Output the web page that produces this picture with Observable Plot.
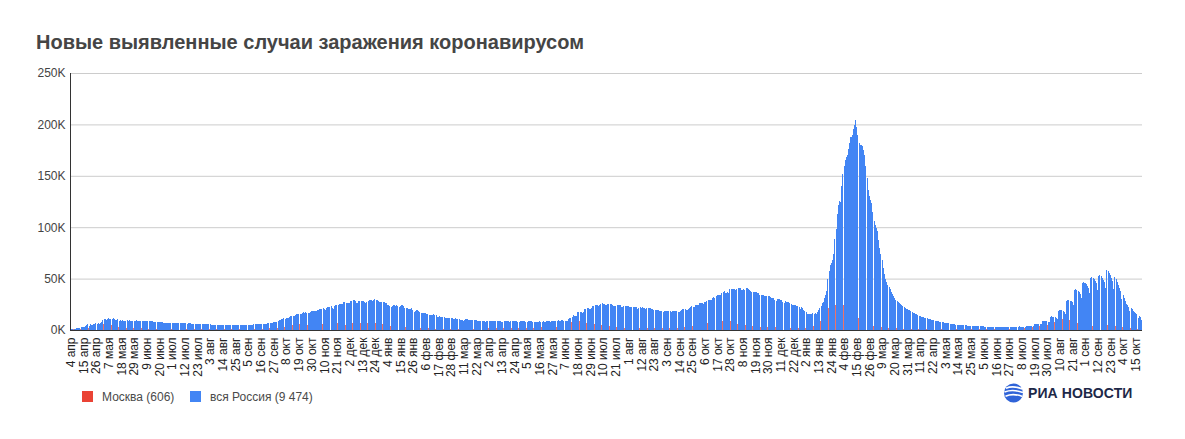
<!DOCTYPE html>
<html>
<head>
<meta charset="utf-8">
<script src="https://cdn.jsdelivr.net/npm/d3@7"></script>
<script src="https://cdn.jsdelivr.net/npm/@observablehq/plot@0.6"></script>
<style>
  html, body { margin: 0; padding: 0; background: #fff; }
  #page { position: relative; width: 1185px; height: 439px; overflow: hidden; font-family: "Liberation Sans", Arial, sans-serif; }
  #title { position: absolute; left: 36px; top: 30px; font-size: 20px; line-height: 24px; font-weight: bold; color: #454545; white-space: nowrap; }
  #chart { position: absolute; left: 0; top: 60px; }
  .lg { position: absolute; top: 390px; font-size: 12px; line-height: 14px; color: #4a4a4a; white-space: nowrap; }
  .sw { position: absolute; top: 391px; width: 11px; height: 11px; }
  #logo { position: absolute; left: 1003px; top: 382px; height: 22px; display: flex; align-items: center; }
  #logo span { font-family: "Liberation Sans", Arial, sans-serif; font-weight: bold; font-size: 14px; color: #1d2848; margin-left: 4px; letter-spacing: 0.1px; }
</style>
</head>
<body>
<div id="page">
  <div id="title">Новые выявленные случаи заражения коронавирусом</div>
  <div id="chart"></div>
  <div class="sw" style="left:82px;background:#ea4335"></div>
  <div class="lg" style="left:102px">Москва (606)</div>
  <div class="sw" style="left:190px;background:#4285f4"></div>
  <div class="lg" style="left:210px">вся Россия (9 474)</div>
  <div id="logo">
    <svg width="21" height="20" viewBox="0 0 21 20">
      <circle cx="10.5" cy="10" r="9.5" fill="#2f63d8"/>
      <path d="M3 5.2 Q10 2.2 19.5 6" stroke="#fff" stroke-width="1.6" fill="none"/>
      <path d="M1.5 9 Q10 5.8 20 9.6" stroke="#fff" stroke-width="1.6" fill="none"/>
      <path d="M2.5 13.2 Q10 10 19.5 13.4" stroke="#fff" stroke-width="1.6" fill="none"/>
    </svg>
    <span>РИА НОВОСТИ</span>
  </div>
</div>
<script>
// ---- Data (thousands of cases per day), one inner array per month ----
// 2020: months April (from the 4th) .. December
const russia2020 = [
  [0.6,0.7,1.0,1.2,1.2,1.5,1.8,1.7,2.2,2.6,2.8,3.4,3.4,4.1,4.8,6.1,4.3,5.6,5.2,4.8,5.8,6.0,6.4,6.2,6.4,5.8,7.1],
  [7.9,9.6,10.6,10.6,10.1,10.6,11.2,10.7,10.8,11.0,11.7,10.9,10.0,10.0,10.6,9.2,9.7,8.9,9.3,8.8,8.8,8.9,9.4,8.6,9.3,8.9,8.3,8.4,8.6,9.0,9.3],
  [9.0,8.9,8.5,8.8,8.7,8.9,9.0,9.0,8.6,8.4,8.8,9.0,8.7,8.8,8.2,8.2,7.8,7.8,8.0,7.9,7.7,7.6,7.4,7.2,7.1,6.8,6.9,6.8,6.7,6.7],
  [6.6,6.8,6.8,6.7,6.6,6.7,6.4,6.6,6.5,6.6,6.6,6.6,6.5,6.2,6.4,6.4,6.4,6.2,6.1,6.1,5.8,5.9,5.8,5.9,5.9,5.8,5.6,5.4,5.5,5.5,5.5],
  [5.5,5.4,5.4,5.2,5.2,5.2,5.2,5.2,5.2,5.1,4.9,5.1,5.1,5.1,5.1,5.1,4.8,4.7,4.8,4.8,4.9,4.9,4.9,4.7,4.7,4.7,4.7,4.7,4.9,4.9,4.7],
  [4.7,4.7,4.7,5.0,5.1,5.2,5.2,5.1,5.1,5.4,5.4,5.4,5.4,5.5,5.7,5.7,5.9,5.9,6.1,6.1,6.2,6.4,6.4,6.6,6.7,7.2,7.5,7.9,8.1,8.2],
  [8.5,9.4,9.4,10.5,10.9,11.6,11.1,11.8,12.1,12.1,12.8,13.6,13.9,13.6,13.8,14.2,15.2,15.7,15.9,15.9,15.8,16.6,17.3,17.0,17.3,16.6,16.1,17.0,17.8,18.3,18.1],
  [18.7,18.7,18.6,19.8,19.4,20.6,20.5,20.4,21.8,20.9,19.9,21.6,21.9,22.7,22.6,23.0,21.0,20.0,23.6,24.3,24.6,24.8,25.2,25.0,25.3,25.5,27.6,27.5,26.7,26.3],
  [26.4,26.0,28.1,28.6,28.8,29.0,28.1,26.1,26.2,27.9,28.6,28.6,28.0,28.1,27.0,26.4,27.0,28.2,29.0,28.9,29.3,28.6,29.3,29.9,29.6,29.0,28.3,27.4,27.0,27.0,27.4]
];
const russia2021 = [
  [27.0,26.5,25.9,24.5,24.2,23.5,22.8,23.5,24.2,24.8,23.3,24.1,23.5,22.4,22.9,24.0,24.1,23.4,21.4,21.7,21.1,20.9,20.7,20.4,21.0,19.2,17.9,18.7,19.3,19.3,18.8],
  [17.6,16.6,16.6,16.7,16.6,16.5,16.0,15.1,14.2,15.0,14.5,14.9,15.2,14.9,14.2,13.0,12.9,13.4,12.9,12.8,12.9,12.4,11.5,11.4,11.4,11.3,11.5,11.5],
  [11.4,10.7,10.5,11.4,11.0,10.9,10.6,10.0,9.4,9.6,9.1,10.0,10.6,10.5,9.9,9.3,9.3,9.4,9.5,9.4,9.3,9.3,8.8,8.5,9.1,9.1,8.9,8.9,8.3,8.2,8.5],
  [8.6,8.8,8.6,8.6,8.5,8.3,8.3,8.3,8.6,8.8,8.7,8.7,8.2,8.1,8.3,8.7,8.8,8.7,8.4,8.1,8.3,8.8,9.1,9.0,8.9,8.3,8.1,8.2,8.8,9.2],
  [8.9,8.5,8.3,7.8,8.0,8.3,8.3,8.3,8.4,8.0,8.0,7.6,8.2,8.2,8.2,8.6,8.1,8.2,8.4,8.2,8.2,8.8,8.9,8.7,8.0,8.4,8.4,8.8,9.0,9.1,8.9],
  [9.3,9.0,9.2,9.3,9.3,9.1,8.6,8.9,9.0,10.4,11.7,12.0,13.0,14.7,13.7,14.1,14.0,17.3,17.9,17.6,17.4,16.7,17.6,20.2,20.2,21.0,21.7,20.5,20.2,21.1],
  [23.5,23.2,24.4,24.4,24.4,23.3,23.9,25.1,25.8,25.1,25.1,24.7,24.1,25.3,25.2,25.3,25.2,24.7,23.2,23.8,23.7,24.5,24.1,24.1,23.9,22.8,22.4,23.1,23.3,23.6,23.3],
  [23.3,22.6,22.1,22.6,22.6,22.8,22.6,22.2,20.8,21.6,21.9,21.8,21.9,21.6,21.0,20.6,21.5,21.0,21.4,21.4,20.5,20.0,19.4,19.6,19.5,19.3,19.2,18.8,18.7,18.3,17.8],
  [18.8,18.7,18.9,18.9,18.8,18.2,17.8,18.1,18.3,18.3,18.6,18.5,17.8,17.8,18.8,19.6,20.2,20.2,20.1,19.6,19.7,20.9,21.4,22.1,22.9,22.5,22.2,23.9,24.5,24.8],
  [24.6,25.8,26.3,25.9,25.1,27.0,27.2,28.0,29.4,29.4,28.7,29.0,31.3,32.2,31.3,33.2,34.3,33.7,33.6,34.1,36.3,37.1,37.7,35.7,35.7,36.6,36.4,40.1,39.8,40.3,40.0],
  [39.4,39.2,40.2,40.7,41.3,41.3,39.2,38.9,39.4,39.2,40.5,40.8,39.7,38.8,37.9,36.6,37.4,37.4,37.1,37.1,36.3,35.6,33.9,33.6,34.2,33.6,33.0,32.6,32.6,32.9],
  [32.9,32.1,31.6,31.1,30.8,29.1,28.3,30.5,30.2,29.9,29.3,29.0,27.4,26.7,28.2,27.7,27.4,26.9,26.2,25.7,24.8,24.4,24.7,23.9,23.4,22.9,21.9,20.8,22.2,21.2,19.8]
];
// 2022: months January .. October (to the 20th)
const russia2022 = [
  [18.8,17.8,16.0,15.3,15.6,15.6,15.4,16.3,15.9,16.2,15.8,17.5,19.2,21.7,23.8,25.8,26.8,31.3,33.9,38.0,49.5,57.2,63.2,65.1,67.8,74.1,88.8,98.0,113.1,121.2,125.8],
  [125,140,152,160,165,168,170,176,182,188,190,196,199,204,197,190,182,180,180,179,175,170,160,148,136,130,126,124],
  [115,106,102,99,96,88,80,74,68,60,54,50,47,44,42,40,37,35,33,31,29,28,27,26,25,24,23,22,21,20.5,20],
  [19.5,19,18,17.5,17,16.5,16,15.5,15,14,13.5,13,12.8,12.5,12,11.8,11.5,11,10.8,10.5,10,9.8,9.5,9.2,9,8.8,8.5,8.2,8,7.8],
  [7.5,7.2,7,6.8,6.6,6.4,6.2,6,5.8,5.6,5.4,5.3,5.2,5.1,5,4.9,4.8,4.7,4.6,4.5,4.4,4.3,4.2,4.1,4,3.9,3.9,3.8,3.8,3.7,3.7],
  [3.6,3.6,3.5,3.5,3.5,3.4,3.4,3.4,3.3,3.3,3.3,3.2,3.2,3.2,3.2,3.1,3.1,3.1,3.1,3.0,3.0,3.0,3.0,3.0,3.0,3.0,3.0,3.0,3.1,3.1],
  [3.1,3.1,3.0,2.9,3.4,3.5,3.4,3.4,3.3,3.2,3.1,4.1,4.3,4.2,4.2,4.1,4.0,3.9,6.0,6.3,6.2,6.1,6.0,5.8,5.5,8.5,8.8,8.7,8.6,8.4,8.2],
  [7.6,12.5,13.2,13.0,12.8,12.4,12.0,11.0,18.5,19.5,19.2,19.0,18.5,17.8,16.0,28.0,29.5,29.0,28.6,28.0,27.0,24.0,38.5,40.0,39.0,38.0,37.0,35.5,31.0,45.5,46.5],
  [45.5,44.5,43.0,41.0,36.0,50.5,51.5,50.5,49.5,47.5,45.5,39.0,53.0,53.5,52.5,51.0,49.0,47.0,40.5,58.5,57.0,55.0,53.5,51.0,48.0,40.0,52.0,50.0,47.0,44.0],
  [41.0,38.0,30.0,34.0,31.0,28.0,25.5,24.0,22.5,18.0,21.0,20.0,18.5,17.5,16.5,15.5,12.0,14.0,12.5,9.474]
];
const moscow2020 = [
  [0.4,0.5,0.7,0.7,0.6,0.9,1.1,1.0,1.4,1.4,1.5,1.7,1.8,2.2,2.6,3.5,2.1,2.9,2.6,2.3,2.9,2.8,2.9,2.7,3.1,2.2,3.1],
  [3.6,5.4,6.0,5.9,5.7,6.7,6.0,5.8,5.3,5.3,4.8,4.7,4.3,3.5,3.3,2.7,3.2,2.7,3.5,2.5,2.1,2.3,2.3,2.1,2.5,2.3,2.1,2.1,2.1,2.2,2.6],
  [2.0,1.8,1.6,1.6,1.6,1.5,1.6,1.5,1.1,1.2,1.2,1.2,1.1,1.1,1.0,1.0,0.9,0.9,1.0,1.0,0.9,0.8,0.8,0.7,0.7,0.7,0.7,0.8,0.7,0.7],
  [0.7,0.7,0.6,0.7,0.7,0.6,0.6,0.6,0.6,0.6,0.6,0.6,0.6,0.6,0.6,0.6,0.6,0.6,0.6,0.6,0.6,0.6,0.6,0.6,0.6,0.6,0.6,0.6,0.6,0.6,0.7],
  [0.7,0.7,0.7,0.7,0.7,0.7,0.7,0.7,0.7,0.7,0.7,0.7,0.7,0.7,0.7,0.7,0.6,0.6,0.7,0.7,0.7,0.7,0.7,0.7,0.7,0.7,0.7,0.7,0.7,0.7,0.7],
  [0.7,0.7,0.7,0.7,0.7,0.7,0.7,0.7,0.7,0.7,0.8,0.8,0.8,0.8,0.8,0.8,0.9,1.0,1.1,1.0,1.1,1.3,1.4,1.6,1.8,2.0,2.2,2.3,2.3,2.4],
  [2.4,2.7,2.8,3.3,3.5,3.5,3.1,3.6,4.1,4.0,4.1,4.5,4.3,4.6,4.6,4.1,5.2,5.0,5.4,5.4,4.6,4.7,4.9,5.0,5.0,4.4,4.6,4.6,4.6,5.0,5.2],
  [5.3,5.0,4.8,5.0,5.5,5.9,5.9,5.9,5.9,5.9,5.0,6.0,6.4,6.2,6.1,6.0,5.2,5.3,6.7,6.8,6.9,6.7,6.7,6.1,6.7,6.5,6.6,6.0,5.3,5.7],
  [6.0,5.3,5.7,6.9,7.2,7.4,7.0,6.4,6.4,7.6,7.8,7.2,6.8,6.7,6.4,6.4,7.0,7.0,6.5,6.0,5.9,5.8,6.1,7.1,6.8,6.0,5.7,5.8,5.9,5.6,5.4]
];
const moscow2021 = [
  [5.5,5.2,4.9,4.7,4.5,4.2,4.0,4.5,4.7,4.9,4.7,4.2,3.7,3.5,3.5,3.4,3.0,2.6,2.7,2.6,2.3,2.3,2.2,2.1,2.0,1.8,1.8,1.7,1.8,1.9,1.8],
  [1.8,1.7,1.6,1.7,1.7,1.6,1.5,1.6,1.6,1.7,1.6,1.5,1.4,1.4,1.4,1.4,1.3,1.3,1.4,1.3,1.4,1.3,1.2,1.2,1.3,1.3,1.3,1.2],
  [1.2,1.1,1.2,1.3,1.3,1.3,1.2,1.1,1.1,1.1,1.1,1.1,1.2,1.2,1.2,1.2,1.2,1.2,1.3,1.2,1.3,1.4,1.5,1.5,1.5,1.5,1.6,1.6,1.7,1.6,1.6],
  [1.6,1.7,1.7,1.7,1.6,1.7,1.6,1.8,1.9,2.0,1.9,1.8,1.7,1.8,1.7,1.8,2.0,2.1,1.9,1.8,1.8,2.0,2.0,2.1,2.0,2.0,2.0,2.0,2.0,2.1],
  [2.1,2.1,2.0,2.1,2.1,2.1,2.2,2.3,2.2,2.3,2.4,2.3,2.6,2.6,2.6,2.8,2.9,2.8,2.9,2.7,2.7,2.7,2.9,3.0,2.8,2.8,2.7,2.9,3.0,3.1,3.1],
  [3.4,3.5,3.6,3.8,4.0,4.3,4.6,4.9,5.0,5.6,6.7,7.0,7.7,8.0,7.3,7.6,8.0,9.1,9.1,9.1,8.6,7.9,7.6,7.0,7.0,6.6,6.6,6.8,6.1,6.5],
  [5.1,6.5,6.3,6.6,5.6,5.6,5.4,5.1,5.3,5.1,4.3,4.1,4.0,4.2,3.8,3.7,3.8,3.4,3.0,3.3,3.3,3.1,2.9,2.6,2.5,2.5,2.5,2.6,2.4,2.5,2.2],
  [2.4,2.2,2.2,2.2,2.1,2.2,2.1,2.0,1.7,2.0,2.1,1.9,1.8,1.7,1.6,1.6,1.8,1.7,1.9,1.8,1.6,1.5,1.4,1.6,1.7,1.6,1.5,1.4,1.4,1.6,1.6],
  [1.7,1.6,1.6,1.6,1.5,1.5,1.5,1.6,1.7,1.7,1.8,1.7,1.7,1.7,2.1,2.3,2.5,2.5,2.5,2.5,2.5,2.8,3.1,3.5,3.6,3.9,4.2,4.4,4.7,4.9],
  [5.3,5.6,5.7,5.6,5.6,6.3,6.2,6.0,6.7,6.5,5.9,5.6,6.8,7.1,7.5,7.5,7.5,7.1,7.1,7.6,7.8,8.3,8.4,7.7,7.9,7.8,8.1,8.3,8.6,7.9,6.9],
  [6.2,5.9,6.0,5.8,5.1,5.5,4.7,4.3,4.7,4.6,4.6,4.2,4.0,3.5,3.2,3.4,3.5,3.6,3.5,3.4,3.1,2.8,3.0,3.0,3.0,2.9,2.8,2.5,2.6,2.8],
  [2.7,2.7,2.8,2.6,2.7,2.3,2.5,2.6,2.6,2.7,2.6,2.2,2.3,2.3,2.5,2.4,2.3,2.2,2.1,1.9,2.0,2.1,2.1,2.1,2.1,1.9,1.8,1.8,2.2,2.2,2.2]
];
const moscow2022 = [
  [2.2,2.2,2.2,2.2,2.3,2.6,2.8,3.5,3.9,3.9,4.5,5.4,6.6,7.7,8.8,9.6,11.5,13.2,15.9,17.6,20.0,21.3,22.6,20.8,21.2,21.1,21.9,24.0,26.0,25.8,24.5],
  [24.0,23.5,24.5,24.0,25.5,26.0,25.0,23.0,21.5,20.0,18.5,17.5,16.8,15.5,14.5,13.5,12.0,10.5,9.5,8.5,8.0,7.2,6.5,6.0,5.5,5.0,4.6,4.2],
  [3.9,3.7,3.5,3.3,3.1,2.9,2.8,2.7,2.6,2.5,2.4,2.3,2.2,2.1,2.0,2.0,1.9,1.9,1.8,1.8,1.7,1.7,1.6,1.6,1.5,1.5,1.5,1.4,1.4,1.4,1.3],
  [1.3,1.3,1.2,1.2,1.2,1.1,1.1,1.1,1.0,1.0,1.0,1.0,0.9,0.9,0.9,0.9,0.9,0.8,0.8,0.8,0.8,0.8,0.8,0.8,0.7,0.7,0.7,0.7,0.7,0.7],
  [0.7,0.7,0.7,0.6,0.6,0.6,0.6,0.6,0.6,0.6,0.6,0.6,0.6,0.6,0.6,0.6,0.6,0.6,0.6,0.6,0.6,0.6,0.6,0.6,0.6,0.6,0.6,0.6,0.6,0.6,0.6],
  [0.6,0.6,0.6,0.6,0.6,0.6,0.6,0.6,0.6,0.6,0.6,0.6,0.6,0.6,0.6,0.6,0.6,0.7,0.7,0.7,0.7,0.8,0.8,0.8,0.9,0.9,1.0,1.0,1.1,1.1],
  [1.2,1.2,1.3,1.4,1.5,1.6,1.7,1.8,1.9,2.0,2.1,2.3,2.5,2.6,2.7,2.9,3.0,3.2,3.4,3.6,3.8,4.0,4.2,4.3,4.4,4.6,4.8,5.0,5.2,5.3,5.0],
  [5.5,6.0,6.5,7.0,7.5,8.0,8.3,8.5,9.0,9.5,10.0,10.5,10.8,10.5,10.0,10.2,10.4,10.2,10.0,9.5,9.0,8.5,8.0,7.5,7.2,6.8,6.5,6.0,5.8,5.6,5.4],
  [5.2,5.0,4.8,4.6,4.3,4.5,4.4,4.3,4.2,4.1,4.0,3.8,4.2,4.3,4.2,4.1,4.0,3.9,3.7,5.0,4.9,4.7,4.5,4.3,4.0,3.6,4.0,3.8,3.6,3.4],
  [3.2,3.0,2.6,2.8,2.6,2.4,2.2,2.0,1.9,1.6,1.8,1.7,1.6,1.5,1.4,1.3,1.0,1.2,1.0,0.606]
];

const monthsRu = ["янв","фев","мар","апр","мая","июн","июл","авг","сен","окт","ноя","дек"];
const yTicks = [0, 50000, 100000, 150000, 200000, 250000];
const colors = { moscow: "#ea4335", russia: "#4285f4" };

// ---- Build tables ----
const DAY = 864e5;
function buildRows(blocks) {
  const rows = [];
  for (const [year, firstMonth, firstDay, months] of blocks) {
    months.forEach((vals, mi) => {
      vals.forEach((v, i) => {
        const date = new Date(Date.UTC(year, firstMonth + mi, (mi === 0 ? firstDay : 1) + i));
        rows.push({ date, value: v * 1000 });
      });
    });
  }
  return rows;
}
const russiaRows = buildRows([[2020, 3, 4, russia2020], [2021, 0, 1, russia2021], [2022, 0, 1, russia2022]]);
const moscowRows = buildRows([[2020, 3, 4, moscow2020], [2021, 0, 1, moscow2021], [2022, 0, 1, moscow2022]]);

const xStart = russiaRows[0].date;
const xEnd = new Date(+russiaRows[russiaRows.length - 1].date + DAY);
const xTicks = d3.utcDay.range(xStart, xEnd, 11).map(d => new Date(+d + DAY / 2));

// grouped bars per day: Moscow (narrow, left) then Russia, small gap at the end
const split = 0.11, gapStart = 0.985;

const chart = Plot.plot({
  width: 1185,
  height: 320,
  marginTop: 13,
  marginBottom: 50,
  marginLeft: 70,
  marginRight: 43,
  style: { fontFamily: "'Liberation Sans', Arial, sans-serif", fontSize: "12px", background: "transparent", overflow: "visible" },
  x: { type: "utc", domain: [xStart, xEnd] },
  y: { domain: [0, 250000] },
  marks: [
    Plot.gridY(yTicks.slice(1), { stroke: "#cccccc", strokeOpacity: 1 }),
    Plot.rectY(russiaRows, {
      x1: d => new Date(+d.date + split * DAY),
      x2: d => new Date(+d.date + gapStart * DAY),
      y: "value", fill: colors.russia, shapeRendering: "crispEdges"
    }),
    Plot.rectY(moscowRows, {
      x1: d => d.date,
      x2: d => new Date(+d.date + split * DAY),
      y: "value", fill: colors.moscow, fillOpacity: 0.75, shapeRendering: "crispEdges"
    }),
    Plot.ruleY([0], { stroke: "#333" }),
    Plot.ruleX([xStart], { y1: 0, y2: 250000, stroke: "#333" }),
    Plot.axisY({ ticks: yTicks, tickFormat: d => d / 1000 + "K", tickSize: 0, tickPadding: 5, label: null, fill: "#444", fontSize: 12 }),
    Plot.axisX({
      ticks: xTicks,
      tickFormat: d => `${d.getUTCDate()} ${monthsRu[d.getUTCMonth()]}`,
      tickRotate: -90, tickSize: 0, tickPadding: 7, label: null, fill: "#222", fontSize: 12
    })
  ]
});
document.getElementById("chart").appendChild(chart);
</script>
</body>
</html>
